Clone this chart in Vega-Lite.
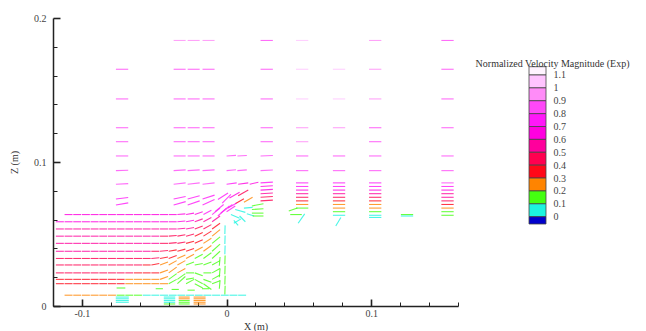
{
  "$schema": "https://vega.github.io/schema/vega-lite/v6.json",
  "background": "white",
  "padding": {"left": 9, "top": 13, "right": 0, "bottom": 0},
  "bounds": "flush",
  "spacing": 71,
  "config": {
    "view": {"stroke": null},
    "font": "Liberation Serif",
    "axis": {"labelFont": "Liberation Serif", "titleFont": "Liberation Serif", "labelFontSize": 10, "titleFontSize": 10, "labelColor": "#444", "titleColor": "#333", "titleFontWeight": "normal", "domainColor": "#222", "domainWidth": 1.5, "tickColor": "#222", "grid": false}
  },
  "hconcat": [
    {
      "width": 405,
      "height": 288,
      "data": {"values": [
        {"x":-0.0765,"z":0.1644,"xe":-0.068,"ze":0.1644,"m":0.85},
        {"x":-0.0765,"z":0.1438,"xe":-0.068,"ze":0.1438,"m":0.85},
        {"x":-0.0765,"z":0.1238,"xe":-0.068,"ze":0.1238,"m":0.85},
        {"x":-0.0765,"z":0.1141,"xe":-0.068,"ze":0.1141,"m":0.85},
        {"x":-0.0765,"z":0.1042,"xe":-0.068,"ze":0.1042,"m":0.85},
        {"x":-0.0765,"z":0.094,"xe":-0.068,"ze":0.0943,"m":0.85},
        {"x":-0.0765,"z":0.0845,"xe":-0.068,"ze":0.085,"m":0.82},
        {"x":-0.0765,"z":0.0743,"xe":-0.068,"ze":0.0753,"m":0.78},
        {"x":-0.0765,"z":0.0701,"xe":-0.068,"ze":0.0716,"m":0.72},

        {"x":-0.0366,"z":0.1844,"xe":-0.0283,"ze":0.1844,"m":0.95},
        {"x":-0.0269,"z":0.1844,"xe":-0.0186,"ze":0.1844,"m":0.95},
        {"x":-0.0166,"z":0.1844,"xe":-0.0083,"ze":0.1844,"m":0.95},
        {"x":-0.0366,"z":0.1644,"xe":-0.0283,"ze":0.1644,"m":0.85},
        {"x":-0.0269,"z":0.1644,"xe":-0.0186,"ze":0.1644,"m":0.85},
        {"x":-0.0166,"z":0.1644,"xe":-0.0083,"ze":0.1644,"m":0.85},
        {"x":-0.0366,"z":0.1438,"xe":-0.0283,"ze":0.1438,"m":0.85},
        {"x":-0.0269,"z":0.1438,"xe":-0.0186,"ze":0.1438,"m":0.85},
        {"x":-0.0166,"z":0.1438,"xe":-0.0083,"ze":0.1438,"m":0.85},
        {"x":-0.0366,"z":0.1238,"xe":-0.0283,"ze":0.1238,"m":0.85},
        {"x":-0.0269,"z":0.1238,"xe":-0.0186,"ze":0.1238,"m":0.85},
        {"x":-0.0166,"z":0.1238,"xe":-0.0083,"ze":0.1238,"m":0.85},
        {"x":-0.0366,"z":0.1141,"xe":-0.0283,"ze":0.1141,"m":0.85},
        {"x":-0.0269,"z":0.1141,"xe":-0.0186,"ze":0.1141,"m":0.85},
        {"x":-0.0166,"z":0.1141,"xe":-0.0083,"ze":0.1141,"m":0.85},
        {"x":-0.0366,"z":0.1042,"xe":-0.0283,"ze":0.1042,"m":0.85},
        {"x":-0.0269,"z":0.1042,"xe":-0.0186,"ze":0.1042,"m":0.85},
        {"x":-0.0166,"z":0.1042,"xe":-0.0083,"ze":0.1042,"m":0.85},
        {"x":-0.0366,"z":0.094,"xe":-0.0283,"ze":0.0945,"m":0.85},
        {"x":-0.0269,"z":0.094,"xe":-0.0186,"ze":0.0945,"m":0.85},
        {"x":-0.0166,"z":0.094,"xe":-0.0083,"ze":0.0945,"m":0.85},
        {"x":-0.0366,"z":0.0845,"xe":-0.0283,"ze":0.0855,"m":0.82},
        {"x":-0.0269,"z":0.0845,"xe":-0.0186,"ze":0.0855,"m":0.82},
        {"x":-0.0166,"z":0.0845,"xe":-0.0083,"ze":0.0855,"m":0.82},
        {"x":-0.0366,"z":0.0743,"xe":-0.0283,"ze":0.076,"m":0.78},
        {"x":-0.0269,"z":0.0743,"xe":-0.0186,"ze":0.0765,"m":0.78},
        {"x":-0.0166,"z":0.0743,"xe":-0.0083,"ze":0.077,"m":0.78},
        {"x":-0.0366,"z":0.0701,"xe":-0.0283,"ze":0.0725,"m":0.72},
        {"x":-0.0269,"z":0.0701,"xe":-0.0186,"ze":0.073,"m":0.72},
        {"x":-0.0166,"z":0.0701,"xe":-0.0083,"ze":0.074,"m":0.72},

        {"x":0.0,"z":0.1042,"xe":0.0065,"ze":0.1046,"m":0.85},
        {"x":0.0075,"z":0.1042,"xe":0.014,"ze":0.1045,"m":0.85},
        {"x":0.0,"z":0.094,"xe":0.0065,"ze":0.0946,"m":0.85},
        {"x":0.0075,"z":0.094,"xe":0.014,"ze":0.0945,"m":0.85},
        {"x":0.0,"z":0.0845,"xe":0.007,"ze":0.0855,"m":0.72},
        {"x":0.008,"z":0.0845,"xe":0.015,"ze":0.0855,"m":0.65},
        {"x":0.016,"z":0.0845,"xe":0.022,"ze":0.086,"m":0.6},
        {"x":-0.006,"z":0.074,"xe":0.001,"ze":0.0785,"m":0.7},
        {"x":-0.003,"z":0.0715,"xe":0.003,"ze":0.0775,"m":0.7},
        {"x":0.002,"z":0.075,"xe":0.009,"ze":0.079,"m":0.6},
        {"x":0.008,"z":0.0765,"xe":0.015,"ze":0.0805,"m":0.45},
        {"x":0.012,"z":0.072,"xe":0.018,"ze":0.0755,"m":0.28},
        {"x":0.006,"z":0.071,"xe":0.012,"ze":0.0745,"m":0.35},

        {"x":-0.006,"z":0.0625,"xe":0.0,"ze":0.068,"m":0.72},
        {"x":-0.004,"z":0.0645,"xe":0.002,"ze":0.0695,"m":0.78},
        {"x":-0.002,"z":0.066,"xe":0.004,"ze":0.0705,"m":0.8},
        {"x":0.0,"z":0.0655,"xe":0.006,"ze":0.0695,"m":0.75},
        {"x":-0.008,"z":0.0655,"xe":-0.002,"ze":0.0705,"m":0.7},
        {"x":0.001,"z":0.068,"xe":0.007,"ze":0.0715,"m":0.72},

        {"x":0.003,"z":0.0635,"xe":0.009,"ze":0.061,"m":0.05},
        {"x":0.006,"z":0.067,"xe":0.013,"ze":0.065,"m":0.06},
        {"x":0.009,"z":0.0625,"xe":0.013,"ze":0.0585,"m":0.04},
        {"x":0.012,"z":0.068,"xe":0.018,"ze":0.0685,"m":0.07},
        {"x":0.014,"z":0.064,"xe":0.019,"ze":0.0625,"m":0.05},
        {"x":0.005,"z":0.0595,"xe":0.008,"ze":0.056,"m":0.03},
        {"x":0.01,"z":0.0605,"xe":0.005,"ze":0.0575,"m":0.03},

        {"x":0.0175,"z":0.0645,"xe":0.0255,"ze":0.0645,"m":0.15},
        {"x":0.0175,"z":0.067,"xe":0.0255,"ze":0.0675,"m":0.15},
        {"x":0.0175,"z":0.0695,"xe":0.0255,"ze":0.071,"m":0.18},
        {"x":0.018,"z":0.0625,"xe":0.0255,"ze":0.0625,"m":0.12},

        {"x":-0.0012,"z":0.008,"xe":-0.001,"ze":0.014,"m":0.13},
        {"x":-0.0012,"z":0.015,"xe":-0.001,"ze":0.021,"m":0.15},
        {"x":-0.0012,"z":0.022,"xe":-0.001,"ze":0.028,"m":0.14},
        {"x":-0.0012,"z":0.029,"xe":-0.001,"ze":0.035,"m":0.11},
        {"x":-0.0012,"z":0.036,"xe":-0.001,"ze":0.042,"m":0.08},
        {"x":-0.0012,"z":0.043,"xe":-0.001,"ze":0.049,"m":0.06},
        {"x":-0.0012,"z":0.05,"xe":-0.001,"ze":0.056,"m":0.07},
        {"x":-0.005,"z":0.012,"xe":-0.0045,"ze":0.018,"m":0.15},
        {"x":-0.005,"z":0.02,"xe":-0.0045,"ze":0.026,"m":0.14},
        {"x":-0.005,"z":0.028,"xe":-0.0045,"ze":0.034,"m":0.12},

        {"x":0.0235,"z":0.1844,"xe":0.032,"ze":0.1844,"m":0.88},
        {"x":0.0235,"z":0.1644,"xe":0.032,"ze":0.1644,"m":0.85},
        {"x":0.0235,"z":0.1438,"xe":0.032,"ze":0.1438,"m":0.85},
        {"x":0.0235,"z":0.1238,"xe":0.032,"ze":0.1238,"m":0.85},
        {"x":0.0235,"z":0.1141,"xe":0.032,"ze":0.1141,"m":0.85},
        {"x":0.0235,"z":0.1042,"xe":0.032,"ze":0.1045,"m":0.85},
        {"x":0.0235,"z":0.094,"xe":0.032,"ze":0.0944,"m":0.85},
        {"x":0.0235,"z":0.0855,"xe":0.032,"ze":0.086,"m":0.72},
        {"x":0.0235,"z":0.083,"xe":0.032,"ze":0.0835,"m":0.68},
        {"x":0.0235,"z":0.0805,"xe":0.032,"ze":0.081,"m":0.62},
        {"x":0.0235,"z":0.078,"xe":0.032,"ze":0.0785,"m":0.55},
        {"x":0.0235,"z":0.0755,"xe":0.032,"ze":0.076,"m":0.48},
        {"x":0.0235,"z":0.073,"xe":0.032,"ze":0.0735,"m":0.4},

        {"x":0.048,"z":0.1844,"xe":0.0565,"ze":0.1844,"m":1.05},
        {"x":0.048,"z":0.1644,"xe":0.0565,"ze":0.1644,"m":1.05},
        {"x":0.048,"z":0.1438,"xe":0.0565,"ze":0.1438,"m":1.05},
        {"x":0.048,"z":0.1238,"xe":0.0565,"ze":0.1238,"m":0.9},
        {"x":0.048,"z":0.1141,"xe":0.0565,"ze":0.1141,"m":0.9},
        {"x":0.048,"z":0.1042,"xe":0.0565,"ze":0.1042,"m":0.85},
        {"x":0.048,"z":0.094,"xe":0.0565,"ze":0.094,"m":0.85},
        {"x":0.048,"z":0.0855,"xe":0.0565,"ze":0.0855,"m":0.75},
        {"x":0.048,"z":0.083,"xe":0.0565,"ze":0.083,"m":0.7},
        {"x":0.048,"z":0.0805,"xe":0.0565,"ze":0.0805,"m":0.6},
        {"x":0.048,"z":0.078,"xe":0.0565,"ze":0.078,"m":0.5},
        {"x":0.048,"z":0.0755,"xe":0.0565,"ze":0.0755,"m":0.42},
        {"x":0.048,"z":0.073,"xe":0.0565,"ze":0.073,"m":0.35},
        {"x":0.048,"z":0.0705,"xe":0.0565,"ze":0.0705,"m":0.25},
        {"x":0.048,"z":0.068,"xe":0.0565,"ze":0.068,"m":0.15},
        {"x":0.043,"z":0.066,"xe":0.049,"ze":0.068,"m":0.15},
        {"x":0.044,"z":0.0635,"xe":0.052,"ze":0.0635,"m":0.12},
        {"x":0.054,"z":0.064,"xe":0.0495,"ze":0.0575,"m":0.05},

        {"x":0.0735,"z":0.1644,"xe":0.082,"ze":0.1644,"m":1.05},
        {"x":0.0735,"z":0.1438,"xe":0.082,"ze":0.1438,"m":1.0},
        {"x":0.0735,"z":0.1238,"xe":0.082,"ze":0.1238,"m":0.9},
        {"x":0.0735,"z":0.1042,"xe":0.082,"ze":0.1042,"m":0.85},
        {"x":0.0735,"z":0.094,"xe":0.082,"ze":0.094,"m":0.85},
        {"x":0.0735,"z":0.0855,"xe":0.082,"ze":0.0855,"m":0.78},
        {"x":0.0735,"z":0.083,"xe":0.082,"ze":0.083,"m":0.72},
        {"x":0.0735,"z":0.0805,"xe":0.082,"ze":0.0805,"m":0.65},
        {"x":0.0735,"z":0.078,"xe":0.082,"ze":0.078,"m":0.55},
        {"x":0.0735,"z":0.0755,"xe":0.082,"ze":0.0755,"m":0.45},
        {"x":0.0735,"z":0.073,"xe":0.082,"ze":0.073,"m":0.38},
        {"x":0.0735,"z":0.0705,"xe":0.082,"ze":0.0705,"m":0.28},
        {"x":0.0735,"z":0.068,"xe":0.082,"ze":0.068,"m":0.2},
        {"x":0.0735,"z":0.0655,"xe":0.082,"ze":0.0655,"m":0.12},
        {"x":0.0735,"z":0.063,"xe":0.082,"ze":0.063,"m":0.06},
        {"x":0.079,"z":0.0615,"xe":0.0755,"ze":0.0555,"m":0.05},

        {"x":0.0985,"z":0.1844,"xe":0.107,"ze":0.1844,"m":0.95},
        {"x":0.0985,"z":0.1644,"xe":0.107,"ze":0.1644,"m":0.9},
        {"x":0.0985,"z":0.1438,"xe":0.107,"ze":0.1438,"m":0.9},
        {"x":0.0985,"z":0.1238,"xe":0.107,"ze":0.1238,"m":0.85},
        {"x":0.0985,"z":0.1141,"xe":0.107,"ze":0.1141,"m":0.88},
        {"x":0.0985,"z":0.1042,"xe":0.107,"ze":0.1042,"m":0.85},
        {"x":0.0985,"z":0.094,"xe":0.107,"ze":0.094,"m":0.85},
        {"x":0.0985,"z":0.0855,"xe":0.107,"ze":0.0855,"m":0.78},
        {"x":0.0985,"z":0.083,"xe":0.107,"ze":0.083,"m":0.72},
        {"x":0.0985,"z":0.0805,"xe":0.107,"ze":0.0805,"m":0.65},
        {"x":0.0985,"z":0.078,"xe":0.107,"ze":0.078,"m":0.55},
        {"x":0.0985,"z":0.0755,"xe":0.107,"ze":0.0755,"m":0.45},
        {"x":0.0985,"z":0.073,"xe":0.107,"ze":0.073,"m":0.38},
        {"x":0.0985,"z":0.0705,"xe":0.107,"ze":0.0705,"m":0.28},
        {"x":0.0985,"z":0.068,"xe":0.107,"ze":0.068,"m":0.2},
        {"x":0.0985,"z":0.0655,"xe":0.107,"ze":0.0655,"m":0.12},
        {"x":0.0985,"z":0.063,"xe":0.107,"ze":0.063,"m":0.06},
        {"x":0.0985,"z":0.0615,"xe":0.107,"ze":0.0615,"m":0.04},

        {"x":0.1205,"z":0.0635,"xe":0.129,"ze":0.0635,"m":0.1},
        {"x":0.1205,"z":0.0625,"xe":0.129,"ze":0.0625,"m":0.07},

        {"x":0.1485,"z":0.1844,"xe":0.157,"ze":0.1844,"m":0.85},
        {"x":0.1485,"z":0.1644,"xe":0.157,"ze":0.1644,"m":0.85},
        {"x":0.1485,"z":0.1438,"xe":0.157,"ze":0.1438,"m":0.85},
        {"x":0.1485,"z":0.1238,"xe":0.157,"ze":0.1238,"m":0.85},
        {"x":0.1485,"z":0.1042,"xe":0.157,"ze":0.1042,"m":0.85},
        {"x":0.1485,"z":0.094,"xe":0.157,"ze":0.094,"m":0.85},
        {"x":0.1485,"z":0.0855,"xe":0.157,"ze":0.0855,"m":0.8},
        {"x":0.1485,"z":0.083,"xe":0.157,"ze":0.083,"m":0.75},
        {"x":0.1485,"z":0.0805,"xe":0.157,"ze":0.0805,"m":0.68},
        {"x":0.1485,"z":0.078,"xe":0.157,"ze":0.078,"m":0.58},
        {"x":0.1485,"z":0.0755,"xe":0.157,"ze":0.0755,"m":0.5},
        {"x":0.1485,"z":0.073,"xe":0.157,"ze":0.073,"m":0.42},
        {"x":0.1485,"z":0.0705,"xe":0.157,"ze":0.0705,"m":0.35},
        {"x":0.1485,"z":0.068,"xe":0.157,"ze":0.068,"m":0.25},
        {"x":0.1485,"z":0.0655,"xe":0.157,"ze":0.0655,"m":0.15},
        {"x":0.1485,"z":0.063,"xe":0.157,"ze":0.063,"m":0.12},

        {"x":-0.112,"z":0.0635,"xe":-0.1065,"ze":0.0635,"m":0.65},
        {"x":-0.106,"z":0.0635,"xe":-0.1005,"ze":0.0635,"m":0.65},
        {"x":-0.1,"z":0.0635,"xe":-0.0945,"ze":0.0635,"m":0.65},
        {"x":-0.094,"z":0.0635,"xe":-0.0885,"ze":0.0635,"m":0.65},
        {"x":-0.088,"z":0.0635,"xe":-0.0825,"ze":0.0635,"m":0.65},
        {"x":-0.082,"z":0.0635,"xe":-0.0765,"ze":0.0635,"m":0.65},
        {"x":-0.076,"z":0.0635,"xe":-0.0705,"ze":0.0635,"m":0.65},
        {"x":-0.07,"z":0.0635,"xe":-0.0645,"ze":0.0635,"m":0.65},
        {"x":-0.064,"z":0.0635,"xe":-0.0585,"ze":0.0635,"m":0.65},
        {"x":-0.058,"z":0.0635,"xe":-0.0525,"ze":0.0635,"m":0.65},
        {"x":-0.052,"z":0.0635,"xe":-0.0465,"ze":0.0635,"m":0.65},
        {"x":-0.046,"z":0.0635,"xe":-0.0405,"ze":0.0635,"m":0.65},
        {"x":-0.04,"z":0.0635,"xe":-0.0345,"ze":0.0635,"m":0.65},
        {"x":-0.034,"z":0.0635,"xe":-0.0285,"ze":0.064,"m":0.65},
        {"x":-0.028,"z":0.0635,"xe":-0.0225,"ze":0.0645,"m":0.65},
        {"x":-0.022,"z":0.0635,"xe":-0.0165,"ze":0.0655,"m":0.68},
        {"x":-0.016,"z":0.0635,"xe":-0.0105,"ze":0.0665,"m":0.72},
        {"x":-0.01,"z":0.0635,"xe":-0.0045,"ze":0.068,"m":0.75},

        {"x":-0.118,"z":0.0585,"xe":-0.1125,"ze":0.0585,"m":0.62},
        {"x":-0.112,"z":0.0585,"xe":-0.1065,"ze":0.0585,"m":0.62},
        {"x":-0.106,"z":0.0585,"xe":-0.1005,"ze":0.0585,"m":0.62},
        {"x":-0.1,"z":0.0585,"xe":-0.0945,"ze":0.0585,"m":0.62},
        {"x":-0.094,"z":0.0585,"xe":-0.0885,"ze":0.0585,"m":0.62},
        {"x":-0.088,"z":0.0585,"xe":-0.0825,"ze":0.0585,"m":0.62},
        {"x":-0.082,"z":0.0585,"xe":-0.0765,"ze":0.0585,"m":0.62},
        {"x":-0.076,"z":0.0585,"xe":-0.0705,"ze":0.0585,"m":0.62},
        {"x":-0.07,"z":0.0585,"xe":-0.0645,"ze":0.0585,"m":0.62},
        {"x":-0.064,"z":0.0585,"xe":-0.0585,"ze":0.0585,"m":0.62},
        {"x":-0.058,"z":0.0585,"xe":-0.0525,"ze":0.0585,"m":0.62},
        {"x":-0.052,"z":0.0585,"xe":-0.0465,"ze":0.0585,"m":0.62},
        {"x":-0.046,"z":0.0585,"xe":-0.0405,"ze":0.0585,"m":0.62},
        {"x":-0.04,"z":0.0585,"xe":-0.0345,"ze":0.0585,"m":0.62},
        {"x":-0.034,"z":0.0585,"xe":-0.0285,"ze":0.059,"m":0.6},
        {"x":-0.028,"z":0.0585,"xe":-0.0225,"ze":0.0595,"m":0.6},
        {"x":-0.022,"z":0.0585,"xe":-0.0165,"ze":0.0605,"m":0.58},
        {"x":-0.016,"z":0.0585,"xe":-0.0105,"ze":0.0615,"m":0.55},
        {"x":-0.01,"z":0.0585,"xe":-0.0045,"ze":0.0625,"m":0.55},

        {"x":-0.118,"z":0.0535,"xe":-0.1125,"ze":0.0535,"m":0.58},
        {"x":-0.112,"z":0.0535,"xe":-0.1065,"ze":0.0535,"m":0.58},
        {"x":-0.106,"z":0.0535,"xe":-0.1005,"ze":0.0535,"m":0.58},
        {"x":-0.1,"z":0.0535,"xe":-0.0945,"ze":0.0535,"m":0.58},
        {"x":-0.094,"z":0.0535,"xe":-0.0885,"ze":0.0535,"m":0.58},
        {"x":-0.088,"z":0.0535,"xe":-0.0825,"ze":0.0535,"m":0.58},
        {"x":-0.082,"z":0.0535,"xe":-0.0765,"ze":0.0535,"m":0.58},
        {"x":-0.076,"z":0.0535,"xe":-0.0705,"ze":0.0535,"m":0.58},
        {"x":-0.07,"z":0.0535,"xe":-0.0645,"ze":0.0535,"m":0.58},
        {"x":-0.064,"z":0.0535,"xe":-0.0585,"ze":0.0535,"m":0.58},
        {"x":-0.058,"z":0.0535,"xe":-0.0525,"ze":0.0535,"m":0.52},
        {"x":-0.052,"z":0.0535,"xe":-0.0465,"ze":0.0535,"m":0.52},
        {"x":-0.046,"z":0.0535,"xe":-0.0405,"ze":0.0535,"m":0.52},
        {"x":-0.04,"z":0.0535,"xe":-0.0345,"ze":0.0535,"m":0.52},
        {"x":-0.034,"z":0.0535,"xe":-0.0285,"ze":0.054,"m":0.52},
        {"x":-0.028,"z":0.0535,"xe":-0.0225,"ze":0.0545,"m":0.52},
        {"x":-0.022,"z":0.0535,"xe":-0.0165,"ze":0.0555,"m":0.48},
        {"x":-0.016,"z":0.0535,"xe":-0.0105,"ze":0.0565,"m":0.42},
        {"x":-0.01,"z":0.0535,"xe":-0.0045,"ze":0.0575,"m":0.32},

        {"x":-0.118,"z":0.0485,"xe":-0.1125,"ze":0.0485,"m":0.55},
        {"x":-0.112,"z":0.0485,"xe":-0.1065,"ze":0.0485,"m":0.55},
        {"x":-0.106,"z":0.0485,"xe":-0.1005,"ze":0.0485,"m":0.55},
        {"x":-0.1,"z":0.0485,"xe":-0.0945,"ze":0.0485,"m":0.55},
        {"x":-0.094,"z":0.0485,"xe":-0.0885,"ze":0.0485,"m":0.55},
        {"x":-0.088,"z":0.0485,"xe":-0.0825,"ze":0.0485,"m":0.55},
        {"x":-0.082,"z":0.0485,"xe":-0.0765,"ze":0.0485,"m":0.55},
        {"x":-0.076,"z":0.0485,"xe":-0.0705,"ze":0.0485,"m":0.55},
        {"x":-0.07,"z":0.0485,"xe":-0.0645,"ze":0.0485,"m":0.55},
        {"x":-0.064,"z":0.0485,"xe":-0.0585,"ze":0.0485,"m":0.55},
        {"x":-0.058,"z":0.0485,"xe":-0.0525,"ze":0.0485,"m":0.55},
        {"x":-0.052,"z":0.0485,"xe":-0.0465,"ze":0.0485,"m":0.55},
        {"x":-0.046,"z":0.0485,"xe":-0.0405,"ze":0.0485,"m":0.48},
        {"x":-0.04,"z":0.0485,"xe":-0.0345,"ze":0.049,"m":0.46},
        {"x":-0.034,"z":0.0485,"xe":-0.0285,"ze":0.0495,"m":0.44},
        {"x":-0.028,"z":0.0485,"xe":-0.0225,"ze":0.05,"m":0.42},
        {"x":-0.022,"z":0.0485,"xe":-0.0165,"ze":0.051,"m":0.38},
        {"x":-0.016,"z":0.0485,"xe":-0.0105,"ze":0.052,"m":0.3},
        {"x":-0.01,"z":0.0485,"xe":-0.0045,"ze":0.053,"m":0.22},

        {"x":-0.118,"z":0.0435,"xe":-0.1125,"ze":0.0435,"m":0.52},
        {"x":-0.112,"z":0.0435,"xe":-0.1065,"ze":0.0435,"m":0.52},
        {"x":-0.106,"z":0.0435,"xe":-0.1005,"ze":0.0435,"m":0.52},
        {"x":-0.1,"z":0.0435,"xe":-0.0945,"ze":0.0435,"m":0.52},
        {"x":-0.094,"z":0.0435,"xe":-0.0885,"ze":0.0435,"m":0.52},
        {"x":-0.088,"z":0.0435,"xe":-0.0825,"ze":0.0435,"m":0.52},
        {"x":-0.082,"z":0.0435,"xe":-0.0765,"ze":0.0435,"m":0.52},
        {"x":-0.076,"z":0.0435,"xe":-0.0705,"ze":0.0435,"m":0.52},
        {"x":-0.07,"z":0.0435,"xe":-0.0645,"ze":0.0435,"m":0.52},
        {"x":-0.064,"z":0.0435,"xe":-0.0585,"ze":0.0435,"m":0.52},
        {"x":-0.058,"z":0.0435,"xe":-0.0525,"ze":0.0435,"m":0.52},
        {"x":-0.052,"z":0.0435,"xe":-0.0465,"ze":0.0435,"m":0.52},
        {"x":-0.046,"z":0.0435,"xe":-0.0405,"ze":0.0435,"m":0.46},
        {"x":-0.04,"z":0.0435,"xe":-0.0345,"ze":0.044,"m":0.44},
        {"x":-0.034,"z":0.0435,"xe":-0.0285,"ze":0.0445,"m":0.4},
        {"x":-0.028,"z":0.0435,"xe":-0.0225,"ze":0.045,"m":0.35},
        {"x":-0.022,"z":0.0435,"xe":-0.0165,"ze":0.046,"m":0.3},
        {"x":-0.016,"z":0.0435,"xe":-0.0105,"ze":0.047,"m":0.25},
        {"x":-0.01,"z":0.0435,"xe":-0.0045,"ze":0.048,"m":0.16},

        {"x":-0.118,"z":0.038,"xe":-0.1125,"ze":0.038,"m":0.5},
        {"x":-0.112,"z":0.038,"xe":-0.1065,"ze":0.038,"m":0.5},
        {"x":-0.106,"z":0.038,"xe":-0.1005,"ze":0.038,"m":0.5},
        {"x":-0.1,"z":0.038,"xe":-0.0945,"ze":0.038,"m":0.5},
        {"x":-0.094,"z":0.038,"xe":-0.0885,"ze":0.038,"m":0.5},
        {"x":-0.088,"z":0.038,"xe":-0.0825,"ze":0.038,"m":0.5},
        {"x":-0.082,"z":0.038,"xe":-0.0765,"ze":0.038,"m":0.5},
        {"x":-0.076,"z":0.038,"xe":-0.0705,"ze":0.038,"m":0.5},
        {"x":-0.07,"z":0.038,"xe":-0.0645,"ze":0.038,"m":0.5},
        {"x":-0.064,"z":0.038,"xe":-0.0585,"ze":0.038,"m":0.5},
        {"x":-0.058,"z":0.038,"xe":-0.0525,"ze":0.038,"m":0.5},
        {"x":-0.052,"z":0.038,"xe":-0.0465,"ze":0.038,"m":0.45},
        {"x":-0.046,"z":0.038,"xe":-0.0405,"ze":0.0385,"m":0.42},
        {"x":-0.04,"z":0.038,"xe":-0.0345,"ze":0.039,"m":0.38},
        {"x":-0.034,"z":0.038,"xe":-0.0285,"ze":0.0395,"m":0.34},
        {"x":-0.028,"z":0.038,"xe":-0.0225,"ze":0.04,"m":0.3},
        {"x":-0.022,"z":0.038,"xe":-0.0165,"ze":0.041,"m":0.25},
        {"x":-0.016,"z":0.038,"xe":-0.0105,"ze":0.042,"m":0.2},
        {"x":-0.01,"z":0.038,"xe":-0.0045,"ze":0.043,"m":0.15},

        {"x":-0.118,"z":0.033,"xe":-0.1125,"ze":0.033,"m":0.47},
        {"x":-0.112,"z":0.033,"xe":-0.1065,"ze":0.033,"m":0.47},
        {"x":-0.106,"z":0.033,"xe":-0.1005,"ze":0.033,"m":0.47},
        {"x":-0.1,"z":0.033,"xe":-0.0945,"ze":0.033,"m":0.47},
        {"x":-0.094,"z":0.033,"xe":-0.0885,"ze":0.033,"m":0.47},
        {"x":-0.088,"z":0.033,"xe":-0.0825,"ze":0.033,"m":0.47},
        {"x":-0.082,"z":0.033,"xe":-0.0765,"ze":0.033,"m":0.47},
        {"x":-0.076,"z":0.033,"xe":-0.0705,"ze":0.033,"m":0.47},
        {"x":-0.07,"z":0.033,"xe":-0.0645,"ze":0.033,"m":0.47},
        {"x":-0.064,"z":0.033,"xe":-0.0585,"ze":0.033,"m":0.47},
        {"x":-0.058,"z":0.033,"xe":-0.0525,"ze":0.033,"m":0.43},
        {"x":-0.052,"z":0.033,"xe":-0.0465,"ze":0.0335,"m":0.4},
        {"x":-0.046,"z":0.033,"xe":-0.0405,"ze":0.034,"m":0.35},
        {"x":-0.04,"z":0.033,"xe":-0.0345,"ze":0.035,"m":0.3},
        {"x":-0.034,"z":0.033,"xe":-0.0285,"ze":0.0355,"m":0.27},
        {"x":-0.028,"z":0.033,"xe":-0.0225,"ze":0.036,"m":0.22},
        {"x":-0.022,"z":0.033,"xe":-0.0165,"ze":0.036,"m":0.18},
        {"x":-0.016,"z":0.033,"xe":-0.0105,"ze":0.037,"m":0.15},
        {"x":-0.01,"z":0.033,"xe":-0.0045,"ze":0.038,"m":0.12},

        {"x":-0.118,"z":0.0285,"xe":-0.1125,"ze":0.0285,"m":0.45},
        {"x":-0.112,"z":0.0285,"xe":-0.1065,"ze":0.0285,"m":0.45},
        {"x":-0.106,"z":0.0285,"xe":-0.1005,"ze":0.0285,"m":0.45},
        {"x":-0.1,"z":0.0285,"xe":-0.0945,"ze":0.0285,"m":0.45},
        {"x":-0.094,"z":0.0285,"xe":-0.0885,"ze":0.0285,"m":0.45},
        {"x":-0.088,"z":0.0285,"xe":-0.0825,"ze":0.0285,"m":0.45},
        {"x":-0.082,"z":0.0285,"xe":-0.0765,"ze":0.0285,"m":0.45},
        {"x":-0.076,"z":0.0285,"xe":-0.0705,"ze":0.0285,"m":0.45},
        {"x":-0.07,"z":0.0285,"xe":-0.0645,"ze":0.0285,"m":0.45},
        {"x":-0.064,"z":0.0285,"xe":-0.0585,"ze":0.0285,"m":0.4},
        {"x":-0.058,"z":0.0285,"xe":-0.0525,"ze":0.0285,"m":0.36},
        {"x":-0.052,"z":0.0285,"xe":-0.0465,"ze":0.0295,"m":0.32},
        {"x":-0.046,"z":0.0285,"xe":-0.0405,"ze":0.0305,"m":0.28},
        {"x":-0.04,"z":0.0285,"xe":-0.0345,"ze":0.0315,"m":0.25},
        {"x":-0.034,"z":0.0285,"xe":-0.0285,"ze":0.0315,"m":0.2},
        {"x":-0.028,"z":0.0285,"xe":-0.0225,"ze":0.0305,"m":0.18},
        {"x":-0.022,"z":0.0285,"xe":-0.0165,"ze":0.0295,"m":0.15},
        {"x":-0.016,"z":0.0285,"xe":-0.0105,"ze":0.0305,"m":0.15},
        {"x":-0.01,"z":0.0285,"xe":-0.0045,"ze":0.0315,"m":0.12},

        {"x":-0.118,"z":0.023,"xe":-0.1125,"ze":0.023,"m":0.42},
        {"x":-0.112,"z":0.023,"xe":-0.1065,"ze":0.023,"m":0.42},
        {"x":-0.106,"z":0.023,"xe":-0.1005,"ze":0.023,"m":0.42},
        {"x":-0.1,"z":0.023,"xe":-0.0945,"ze":0.023,"m":0.42},
        {"x":-0.094,"z":0.023,"xe":-0.0885,"ze":0.023,"m":0.42},
        {"x":-0.088,"z":0.023,"xe":-0.0825,"ze":0.023,"m":0.42},
        {"x":-0.082,"z":0.023,"xe":-0.0765,"ze":0.023,"m":0.42},
        {"x":-0.076,"z":0.023,"xe":-0.0705,"ze":0.023,"m":0.42},
        {"x":-0.07,"z":0.023,"xe":-0.0645,"ze":0.023,"m":0.42},
        {"x":-0.064,"z":0.023,"xe":-0.0585,"ze":0.023,"m":0.38},
        {"x":-0.058,"z":0.023,"xe":-0.0525,"ze":0.023,"m":0.34},
        {"x":-0.052,"z":0.023,"xe":-0.0465,"ze":0.023,"m":0.3},
        {"x":-0.046,"z":0.023,"xe":-0.0405,"ze":0.025,"m":0.25},
        {"x":-0.04,"z":0.023,"xe":-0.0345,"ze":0.027,"m":0.22},
        {"x":-0.034,"z":0.023,"xe":-0.0285,"ze":0.026,"m":0.2},
        {"x":-0.028,"z":0.023,"xe":-0.0225,"ze":0.023,"m":0.18},
        {"x":-0.022,"z":0.023,"xe":-0.0165,"ze":0.021,"m":0.15},
        {"x":-0.016,"z":0.023,"xe":-0.0105,"ze":0.023,"m":0.15},
        {"x":-0.01,"z":0.023,"xe":-0.0045,"ze":0.026,"m":0.12},

        {"x":-0.118,"z":0.0185,"xe":-0.1125,"ze":0.0185,"m":0.38},
        {"x":-0.112,"z":0.0185,"xe":-0.1065,"ze":0.0185,"m":0.38},
        {"x":-0.106,"z":0.0185,"xe":-0.1005,"ze":0.0185,"m":0.38},
        {"x":-0.1,"z":0.0185,"xe":-0.0945,"ze":0.0185,"m":0.38},
        {"x":-0.094,"z":0.0185,"xe":-0.0885,"ze":0.0185,"m":0.38},
        {"x":-0.088,"z":0.0185,"xe":-0.0825,"ze":0.0185,"m":0.38},
        {"x":-0.082,"z":0.0185,"xe":-0.0765,"ze":0.0185,"m":0.38},
        {"x":-0.076,"z":0.0185,"xe":-0.0705,"ze":0.0185,"m":0.3},
        {"x":-0.07,"z":0.0185,"xe":-0.0645,"ze":0.0185,"m":0.28},
        {"x":-0.064,"z":0.0185,"xe":-0.0585,"ze":0.0185,"m":0.27},
        {"x":-0.058,"z":0.0185,"xe":-0.0525,"ze":0.0185,"m":0.26},
        {"x":-0.052,"z":0.0185,"xe":-0.0465,"ze":0.0185,"m":0.25},
        {"x":-0.046,"z":0.0185,"xe":-0.0405,"ze":0.0205,"m":0.22},
        {"x":-0.04,"z":0.0185,"xe":-0.0345,"ze":0.0225,"m":0.18},
        {"x":-0.034,"z":0.0185,"xe":-0.0285,"ze":0.0225,"m":0.15},
        {"x":-0.028,"z":0.0185,"xe":-0.0225,"ze":0.0195,"m":0.15},
        {"x":-0.022,"z":0.0185,"xe":-0.0165,"ze":0.0155,"m":0.15},
        {"x":-0.016,"z":0.0185,"xe":-0.0105,"ze":0.0165,"m":0.12},
        {"x":-0.01,"z":0.0185,"xe":-0.0045,"ze":0.0215,"m":0.1},

        {"x":-0.118,"z":0.0155,"xe":-0.1125,"ze":0.0155,"m":0.36},
        {"x":-0.112,"z":0.0155,"xe":-0.1065,"ze":0.0155,"m":0.36},
        {"x":-0.106,"z":0.0155,"xe":-0.1005,"ze":0.0155,"m":0.36},
        {"x":-0.1,"z":0.0155,"xe":-0.0945,"ze":0.0155,"m":0.36},
        {"x":-0.094,"z":0.0155,"xe":-0.0885,"ze":0.0155,"m":0.36},
        {"x":-0.088,"z":0.0155,"xe":-0.0825,"ze":0.0155,"m":0.36},
        {"x":-0.082,"z":0.0155,"xe":-0.0765,"ze":0.0155,"m":0.33},
        {"x":-0.076,"z":0.0155,"xe":-0.0705,"ze":0.0155,"m":0.3},
        {"x":-0.07,"z":0.0155,"xe":-0.0645,"ze":0.0155,"m":0.28},
        {"x":-0.064,"z":0.0155,"xe":-0.0585,"ze":0.0155,"m":0.26},
        {"x":-0.058,"z":0.0155,"xe":-0.0525,"ze":0.0155,"m":0.25},
        {"x":-0.052,"z":0.0155,"xe":-0.0465,"ze":0.0155,"m":0.22},
        {"x":-0.046,"z":0.0155,"xe":-0.0405,"ze":0.0155,"m":0.2},
        {"x":-0.04,"z":0.0155,"xe":-0.0345,"ze":0.0185,"m":0.15},
        {"x":-0.034,"z":0.0155,"xe":-0.0285,"ze":0.0205,"m":0.15},
        {"x":-0.028,"z":0.0155,"xe":-0.0225,"ze":0.0185,"m":0.12},
        {"x":-0.022,"z":0.0155,"xe":-0.0165,"ze":0.0125,"m":0.12},
        {"x":-0.016,"z":0.0155,"xe":-0.0105,"ze":0.0115,"m":0.1},
        {"x":-0.01,"z":0.0155,"xe":-0.0045,"ze":0.0175,"m":0.1},

        {"x":-0.076,"z":0.0125,"xe":-0.07,"ze":0.0125,"m":0.15},
        {"x":-0.049,"z":0.012,"xe":-0.044,"ze":0.012,"m":0.15},
        {"x":-0.038,"z":0.0115,"xe":-0.033,"ze":0.0115,"m":0.14},
        {"x":-0.027,"z":0.011,"xe":-0.022,"ze":0.011,"m":0.12},
        {"x":-0.017,"z":0.012,"xe":-0.012,"ze":0.012,"m":0.1},

        {"x":-0.112,"z":0.0075,"xe":-0.1065,"ze":0.0075,"m":0.25},
        {"x":-0.106,"z":0.0075,"xe":-0.1005,"ze":0.0075,"m":0.25},
        {"x":-0.1,"z":0.0075,"xe":-0.0945,"ze":0.0075,"m":0.25},
        {"x":-0.094,"z":0.0075,"xe":-0.0885,"ze":0.0075,"m":0.25},
        {"x":-0.088,"z":0.0075,"xe":-0.0825,"ze":0.0075,"m":0.24},
        {"x":-0.082,"z":0.0075,"xe":-0.0765,"ze":0.0075,"m":0.22},
        {"x":-0.076,"z":0.0075,"xe":-0.0705,"ze":0.0075,"m":0.18},
        {"x":-0.07,"z":0.0075,"xe":-0.0645,"ze":0.0075,"m":0.15},
        {"x":-0.064,"z":0.0075,"xe":-0.0585,"ze":0.0075,"m":0.12},
        {"x":-0.058,"z":0.0075,"xe":-0.0525,"ze":0.0075,"m":0.09},
        {"x":-0.052,"z":0.0075,"xe":-0.0465,"ze":0.0075,"m":0.08},
        {"x":-0.046,"z":0.0075,"xe":-0.0405,"ze":0.0075,"m":0.07},
        {"x":-0.04,"z":0.0075,"xe":-0.0345,"ze":0.0075,"m":0.06},
        {"x":-0.034,"z":0.0075,"xe":-0.0285,"ze":0.0075,"m":0.06},
        {"x":-0.028,"z":0.0075,"xe":-0.0225,"ze":0.0075,"m":0.06},
        {"x":-0.022,"z":0.0075,"xe":-0.0165,"ze":0.0075,"m":0.06},
        {"x":-0.016,"z":0.0075,"xe":-0.0105,"ze":0.0075,"m":0.06},
        {"x":-0.01,"z":0.0075,"xe":-0.0045,"ze":0.0075,"m":0.06},
        {"x":-0.004,"z":0.0075,"xe":0.0015,"ze":0.0075,"m":0.06},
        {"x":0.002,"z":0.0075,"xe":0.0075,"ze":0.0075,"m":0.06},
        {"x":0.008,"z":0.0075,"xe":0.0135,"ze":0.0075,"m":0.06},

        {"x":-0.0766,"z":0.0062,"xe":-0.0676,"ze":0.0062,"m":0.05},
        {"x":-0.0766,"z":0.005,"xe":-0.0676,"ze":0.005,"m":0.05},
        {"x":-0.0766,"z":0.0038,"xe":-0.0676,"ze":0.0038,"m":0.05},
        {"x":-0.0766,"z":0.0026,"xe":-0.0676,"ze":0.0026,"m":0.06},

        {"x":-0.0434,"z":0.0062,"xe":-0.0355,"ze":0.0062,"m":0.05},
        {"x":-0.0434,"z":0.005,"xe":-0.0355,"ze":0.005,"m":0.05},
        {"x":-0.0434,"z":0.0038,"xe":-0.0355,"ze":0.0038,"m":0.06},
        {"x":-0.0434,"z":0.0026,"xe":-0.0355,"ze":0.0026,"m":0.08},
        {"x":-0.0434,"z":0.0014,"xe":-0.0355,"ze":0.0014,"m":0.12},

        {"x":-0.0331,"z":0.0062,"xe":-0.0255,"ze":0.0062,"m":0.25},
        {"x":-0.0331,"z":0.005,"xe":-0.0255,"ze":0.005,"m":0.22},
        {"x":-0.0331,"z":0.0038,"xe":-0.0255,"ze":0.0038,"m":0.18},
        {"x":-0.0331,"z":0.0026,"xe":-0.0255,"ze":0.0026,"m":0.15},
        {"x":-0.0331,"z":0.0014,"xe":-0.0255,"ze":0.0014,"m":0.15},

        {"x":-0.0228,"z":0.0062,"xe":-0.0145,"ze":0.0062,"m":0.26},
        {"x":-0.0228,"z":0.005,"xe":-0.0145,"ze":0.005,"m":0.25},
        {"x":-0.0228,"z":0.0038,"xe":-0.0145,"ze":0.0038,"m":0.24},
        {"x":-0.0228,"z":0.0026,"xe":-0.0145,"ze":0.0026,"m":0.22},
        {"x":-0.0228,"z":0.0014,"xe":-0.0145,"ze":0.0014,"m":0.2}
      ]},
      "mark": {"type": "rule", "strokeWidth": 1.1, "opacity": 0.8},
      "encoding": {
        "x": {
          "field": "x", "type": "quantitative",
          "scale": {"domain": [-0.12, 0.16], "nice": false, "zero": false},
          "axis": {
            "orient": "bottom", "title": "X (m)",
            "values": [-0.12, -0.1, -0.08, -0.06, -0.04, -0.02, 0, 0.02, 0.04, 0.06, 0.08, 0.1, 0.12, 0.14, 0.16],
            "labelExpr": "abs(datum.value*10 - round(datum.value*10)) < 0.001 ? '' + datum.value : ''",
            "tickSize": {"condition": {"test": "abs(datum.value*10 - round(datum.value*10)) < 0.001", "value": -7}, "value": -4},
            "tickWidth": {"condition": {"test": "abs(datum.value*10 - round(datum.value*10)) < 0.001", "value": 1.6}, "value": 1},
            "labelPadding": 9, "titlePadding": 0, "labelFlush": false, "labelOverlap": false
          }
        },
        "x2": {"field": "xe"},
        "y": {
          "field": "z", "type": "quantitative",
          "scale": {"domain": [0, 0.2], "nice": false, "zero": false},
          "axis": {
            "orient": "left", "title": "Z (m)",
            "values": [0, 0.02, 0.04, 0.06, 0.08, 0.1, 0.12, 0.14, 0.16, 0.18, 0.2],
            "labelExpr": "abs(datum.value*10 - round(datum.value*10)) < 0.001 ? '' + datum.value : ''",
            "tickSize": {"condition": {"test": "abs(datum.value*10 - round(datum.value*10)) < 0.001", "value": -7}, "value": -4},
            "tickWidth": {"condition": {"test": "abs(datum.value*10 - round(datum.value*10)) < 0.001", "value": 1.6}, "value": 1},
            "labelPadding": 14, "titlePadding": 14, "labelFlush": false, "labelOverlap": false
          }
        },
        "y2": {"field": "ze"},
        "color": {
          "field": "m", "type": "quantitative",
          "scale": {"type": "threshold", "domain": [0, 0.1, 0.2, 0.3, 0.4, 0.5, 0.6, 0.7, 0.8, 0.9, 1.0, 1.1],
            "range": ["#0000cc", "#1cf4e0", "#44ff10", "#ff8400", "#ff0818", "#ff0050", "#ff009c", "#ff00e0", "#ff18f8", "#ff48f8", "#ff8cf8", "#ffc4ff", "#fff4ff"]},
          "legend": null
        }
      }
    },
    {
      "width": 17,
      "height": 288,
      "title": {"text": "Normalized Velocity Magnitude (Exp)", "anchor": "start", "dx": -53, "offset": -51, "fontSize": 10, "fontWeight": "normal", "font": "Liberation Serif", "color": "#333"},
      "data": {"values": [
        {"lo": 1.1, "hi": 1.1645, "m": 1.13},
        {"lo": 1.0, "hi": 1.1, "m": 1.05},
        {"lo": 0.9, "hi": 1.0, "m": 0.95},
        {"lo": 0.8, "hi": 0.9, "m": 0.85},
        {"lo": 0.7, "hi": 0.8, "m": 0.75},
        {"lo": 0.6, "hi": 0.7, "m": 0.65},
        {"lo": 0.5, "hi": 0.6, "m": 0.55},
        {"lo": 0.4, "hi": 0.5, "m": 0.45},
        {"lo": 0.3, "hi": 0.4, "m": 0.35},
        {"lo": 0.2, "hi": 0.3, "m": 0.25},
        {"lo": 0.1, "hi": 0.2, "m": 0.15},
        {"lo": 0.0, "hi": 0.1, "m": 0.05},
        {"lo": -0.0567, "hi": 0.0, "m": -0.03}
      ]},
      "mark": {"type": "rect", "stroke": "#444", "strokeWidth": 0.8},
      "encoding": {
        "y": {
          "field": "lo", "type": "quantitative",
          "scale": {"domain": [-0.6933, 1.5425], "nice": false, "zero": false},
          "axis": {"orient": "right", "title": null, "values": [0, 0.1, 0.2, 0.3, 0.4, 0.5, 0.6, 0.7, 0.8, 0.9, 1, 1.1], "domain": false, "ticks": false, "labelPadding": 7, "labelExpr": "'' + datum.value", "labelOverlap": false, "labelColor": "#444"}
        },
        "y2": {"field": "hi"},
        "color": {
          "field": "m", "type": "quantitative",
          "scale": {"type": "threshold", "domain": [0, 0.1, 0.2, 0.3, 0.4, 0.5, 0.6, 0.7, 0.8, 0.9, 1.0, 1.1],
            "range": ["#0000cc", "#1cf4e0", "#44ff10", "#ff8400", "#ff0818", "#ff0050", "#ff009c", "#ff00e0", "#ff18f8", "#ff48f8", "#ff8cf8", "#ffc4ff", "#fff4ff"]},
          "legend": null
        }
      }
    }
  ]
}
